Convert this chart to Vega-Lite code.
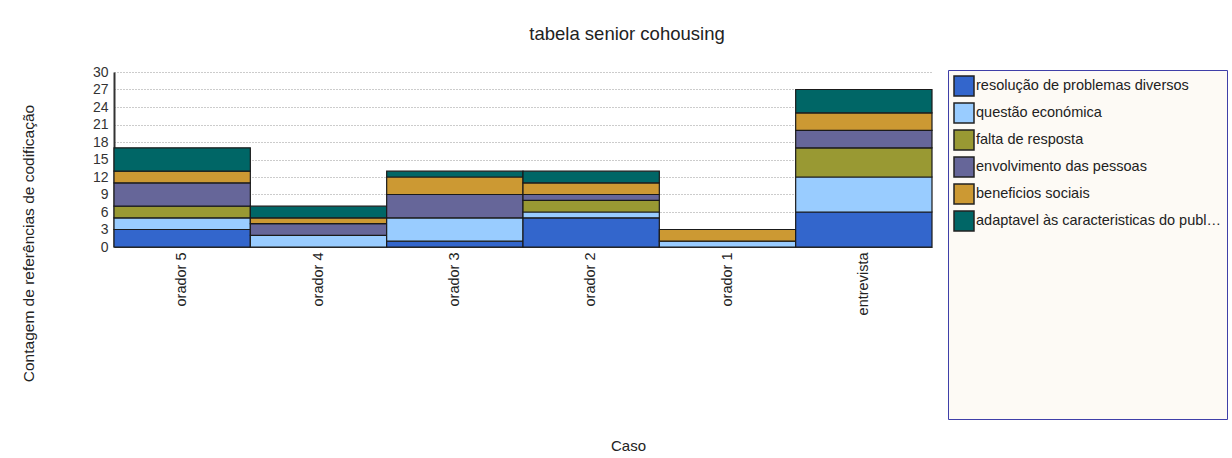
{
  "$schema": "https://vega.github.io/schema/vega-lite/v6.json",
  "autosize": {"type": "none"},
  "padding": {"left": 114, "top": 72, "right": 300, "bottom": 211},
  "width": 818,
  "height": 175,
  "background": "white",
  "title": {
    "text": "tabela senior cohousing",
    "frame": "group",
    "anchor": "middle",
    "dx": 104,
    "offset": 22,
    "fontSize": 18.5,
    "fontWeight": "normal",
    "font": "Liberation Sans",
    "color": "#222222"
  },
  "data": {
    "values": [
      {"caso": "orador 5", "codigo": "resolução de problemas diversos", "n": 3},
      {"caso": "orador 5", "codigo": "questão económica", "n": 2},
      {"caso": "orador 5", "codigo": "falta de resposta", "n": 2},
      {"caso": "orador 5", "codigo": "envolvimento das pessoas", "n": 4},
      {"caso": "orador 5", "codigo": "beneficios sociais", "n": 2},
      {"caso": "orador 5", "codigo": "adaptavel às caracteristicas do publico", "n": 4},
      {"caso": "orador 4", "codigo": "questão económica", "n": 2},
      {"caso": "orador 4", "codigo": "envolvimento das pessoas", "n": 2},
      {"caso": "orador 4", "codigo": "beneficios sociais", "n": 1},
      {"caso": "orador 4", "codigo": "adaptavel às caracteristicas do publico", "n": 2},
      {"caso": "orador 3", "codigo": "resolução de problemas diversos", "n": 1},
      {"caso": "orador 3", "codigo": "questão económica", "n": 4},
      {"caso": "orador 3", "codigo": "envolvimento das pessoas", "n": 4},
      {"caso": "orador 3", "codigo": "beneficios sociais", "n": 3},
      {"caso": "orador 3", "codigo": "adaptavel às caracteristicas do publico", "n": 1},
      {"caso": "orador 2", "codigo": "resolução de problemas diversos", "n": 5},
      {"caso": "orador 2", "codigo": "questão económica", "n": 1},
      {"caso": "orador 2", "codigo": "falta de resposta", "n": 2},
      {"caso": "orador 2", "codigo": "envolvimento das pessoas", "n": 1},
      {"caso": "orador 2", "codigo": "beneficios sociais", "n": 2},
      {"caso": "orador 2", "codigo": "adaptavel às caracteristicas do publico", "n": 2},
      {"caso": "orador 1", "codigo": "questão económica", "n": 1},
      {"caso": "orador 1", "codigo": "beneficios sociais", "n": 2},
      {"caso": "entrevista", "codigo": "resolução de problemas diversos", "n": 6},
      {"caso": "entrevista", "codigo": "questão económica", "n": 6},
      {"caso": "entrevista", "codigo": "falta de resposta", "n": 5},
      {"caso": "entrevista", "codigo": "envolvimento das pessoas", "n": 3},
      {"caso": "entrevista", "codigo": "beneficios sociais", "n": 3},
      {"caso": "entrevista", "codigo": "adaptavel às caracteristicas do publico", "n": 4}
    ]
  },
  "mark": {"type": "bar", "stroke": "#1a1a1a", "strokeWidth": 1.2},
  "encoding": {
    "x": {
      "field": "caso",
      "type": "nominal",
      "sort": ["orador 5", "orador 4", "orador 3", "orador 2", "orador 1", "entrevista"],
      "scale": {"paddingInner": 0, "paddingOuter": 0},
      "axis": {
        "title": "Caso",
        "labelAngle": -90,
        "labelAlign": "right",
        "labelBaseline": "middle",
        "labelPadding": 5,
        "labelFontSize": 14.5,
        "labelColor": "#222222",
        "labelFont": "Liberation Sans",
        "ticks": false,
        "domainColor": "#333333",
        "titleFont": "Liberation Sans",
        "titleFontSize": 15,
        "titleFontWeight": "normal",
        "titleColor": "#222222",
        "titleX": 514,
        "titleY": 198,
        "titleBaseline": "middle"
      }
    },
    "y": {
      "field": "n",
      "type": "quantitative",
      "stack": "zero",
      "scale": {"domain": [0, 30], "nice": false},
      "axis": {
        "title": "Contagem de referências de codificação",
        "values": [0, 3, 6, 9, 12, 15, 18, 21, 24, 27, 30],
        "ticks": false,
        "labelPadding": 6,
        "labelFontSize": 14,
        "labelColor": "#333333",
        "labelFont": "Liberation Sans",
        "domainColor": "#333333",
        "domainWidth": 2,
        "grid": true,
        "gridColor": "#999999",
        "gridDash": [1, 2],
        "gridWidth": 1,
        "titleFont": "Liberation Sans",
        "titleFontSize": 15.5,
        "titleFontWeight": "normal",
        "titleColor": "#222222",
        "titleAngle": -90,
        "titleAlign": "center",
        "titleBaseline": "middle",
        "titleX": -86,
        "titleY": 171
      }
    },
    "color": {
      "field": "codigo",
      "type": "nominal",
      "sort": ["resolução de problemas diversos", "questão económica", "falta de resposta", "envolvimento das pessoas", "beneficios sociais", "adaptavel às caracteristicas do publico"],
      "scale": {
        "domain": ["resolução de problemas diversos", "questão económica", "falta de resposta", "envolvimento das pessoas", "beneficios sociais", "adaptavel às caracteristicas do publico"],
        "range": ["#3366CC", "#99CCFF", "#999933", "#666699", "#CC9933", "#006666"]
      },
      "legend": {
        "orient": "none",
        "legendX": 834,
        "legendY": -2,
        "title": " ",
        "titleOrient": "bottom",
        "titlePadding": 170,
        "titleFontSize": 10,
        "padding": 5,
        "fillColor": "#FDFAF5",
        "strokeColor": "#3F3FA8",
        "symbolType": "square",
        "symbolSize": 400,
        "symbolStrokeColor": "#222222",
        "symbolStrokeWidth": 1.5,
        "symbolOpacity": 1,
        "labelOffset": 1,
        "labelFontSize": 14.5,
        "labelFont": "Liberation Sans",
        "labelColor": "#222222",
        "labelLimit": 246,
        "rowPadding": 1
      }
    }
  },
  "config": {
    "view": {"stroke": null}
  }
}
